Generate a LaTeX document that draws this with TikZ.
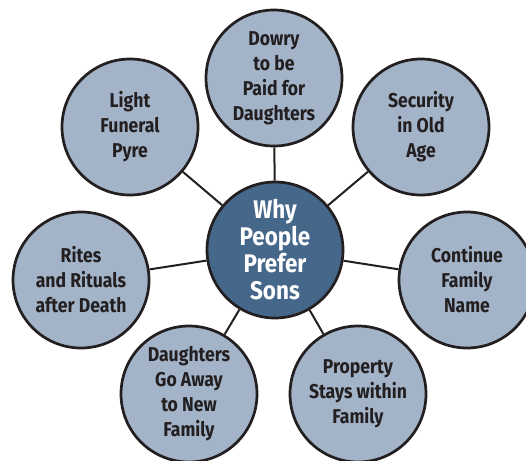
\documentclass[tikz,border=0pt]{standalone}
\usepackage{fontspec}
\setmainfont{Fira Sans}[FakeStretch=0.88]
\usepackage{xcolor}
\definecolor{reasonfill}{HTML}{A3B4C9}
\definecolor{hubfill}{HTML}{44678A}
\definecolor{inkdark}{HTML}{231F20}
\tikzset{
  reason/.style={circle,draw=inkdark,line width=2.7pt,fill=reasonfill,
    minimum size=136pt,inner sep=0pt,align=center,text=inkdark,
    font=\bfseries\fontsize{20}{25}\selectfont},
  hub/.style={reason,fill=hubfill,text=white,
    font=\bfseries\fontsize{25.5}{27}\selectfont},
  spoke/.style={draw=inkdark,line width=2pt}
}
\begin{document}
\begin{tikzpicture}[x=1pt,y=-1pt]
  % Marco de la imagen
  \useasboundingbox (0,0) rectangle (526,460);

  % Nodo central
  \node[hub] (why) at (275,250) {Why\\People\\Prefer\\Sons};

  % Razones alrededor
  \node[reason] (dowry)    at (274,78)  {Dowry\\to be\\Paid for\\Daughters};
  \node[reason] (security) at (421,127) {Security\\in Old\\Age};
  \node[reason] (name)     at (467,280) {Continue\\Family\\Name};
  \node[reason] (property) at (358,394) {Property\\Stays within\\Family};
  \node[reason] (away)     at (189,394) {Daughters\\Go Away\\to New\\Family};
  \node[reason] (rites)    at (81,280)  {Rites\\and Rituals\\after Death};
  \node[reason] (pyre)     at (130,127) {Light\\Funeral\\Pyre};

  % Conectores
  \foreach \r in {dowry,security,name,property,away,rites,pyre}{
    \draw[spoke] (why) -- (\r);
  }
\end{tikzpicture}
\end{document}
